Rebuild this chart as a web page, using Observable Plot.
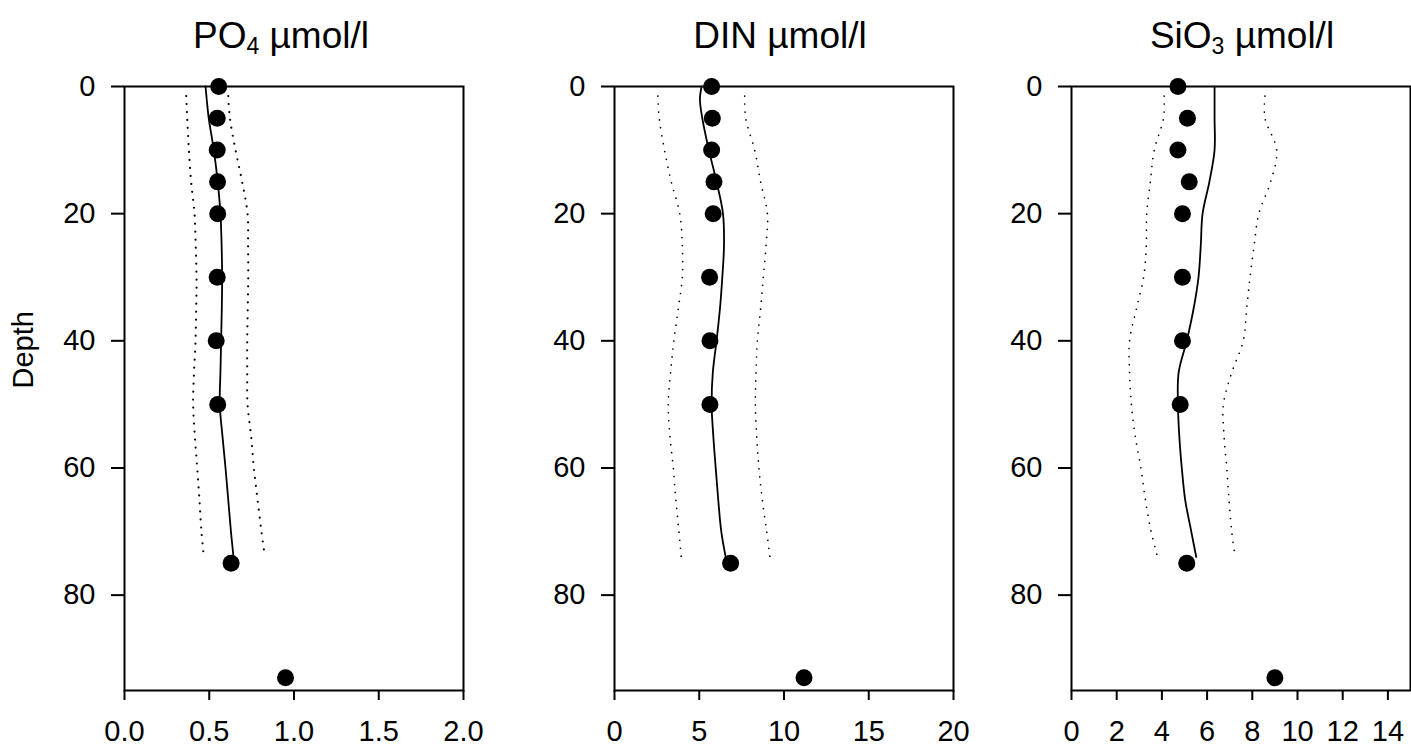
<!DOCTYPE html>
<html>
<head>
<meta charset="utf-8">
<script src="https://cdn.jsdelivr.net/npm/d3@7"></script>
<script src="https://cdn.jsdelivr.net/npm/@observablehq/plot@0.6"></script>
<style>
  html, body { margin: 0; padding: 0; background: white; overflow: hidden; }
  #wrap { position: relative; width: 1411px; height: 748px; font-family: "Liberation Sans", Arial, sans-serif; color: black; }
  .ttl { position: absolute; top: 17px; transform: translateX(-50%); font-size: 37px; line-height: 37px; white-space: nowrap; }
  .ttl .sub { font-size: 23px; vertical-align: -6px; }
  .pnl { position: absolute; top: 0; }
</style>
</head>
<body>
<div id="wrap"></div>
<script>
// Sample depths (m)
const depths = [0, 5, 10, 15, 20, 30, 40, 50, 75, 93];
// Measured concentrations
const po4  = [0.556, 0.547, 0.547, 0.549, 0.55, 0.547, 0.541, 0.55, 0.629, 0.95];
const din  = [5.73, 5.77, 5.73, 5.87, 5.82, 5.61, 5.63, 5.63, 6.85, 11.18];
const sio3 = [4.71, 5.13, 4.71, 5.21, 4.91, 4.91, 4.91, 4.81, 5.1, 9.0];

// Smoothed profile (solid)
const fitDepths = [0, 2, 5, 10, 15, 20, 25, 30, 35, 40, 45, 50, 55, 60, 65, 70, 74];
const po4Fit  = [0.478, 0.485, 0.497, 0.527, 0.55, 0.566, 0.573, 0.576, 0.574, 0.57, 0.566, 0.562, 0.578, 0.596, 0.612, 0.628, 0.643];
const dinFit  = [5.14, 5.04, 5.18, 5.57, 6.02, 6.4, 6.46, 6.36, 6.22, 6.02, 5.8, 5.73, 5.83, 5.97, 6.12, 6.3, 6.56];
const sio3Fit = [6.33, 6.33, 6.33, 6.33, 6.1, 5.8, 5.72, 5.62, 5.4, 5.1, 4.74, 4.71, 4.77, 4.88, 5.03, 5.3, 5.52];

// Confidence bounds (dotted)
const boundDepths = [1.5, 5, 10, 15, 20, 25, 30, 35, 40, 45, 50, 55, 60, 65, 70, 74];
const po4Lower  = [0.364, 0.37, 0.38, 0.393, 0.413, 0.42, 0.425, 0.423, 0.419, 0.41, 0.405, 0.415, 0.429, 0.442, 0.454, 0.468];
const po4Upper  = [0.612, 0.622, 0.655, 0.694, 0.726, 0.729, 0.73, 0.727, 0.724, 0.724, 0.726, 0.747, 0.763, 0.785, 0.808, 0.828];
const dinLower  = [2.56, 2.64, 2.95, 3.35, 3.85, 4.0, 4.0, 3.76, 3.5, 3.31, 3.17, 3.27, 3.47, 3.62, 3.8, 3.94];
const dinUpper  = [7.68, 7.74, 8.27, 8.62, 9.02, 8.94, 8.78, 8.62, 8.43, 8.35, 8.31, 8.39, 8.52, 8.72, 8.98, 9.17];
const sio3Lower = [4.1, 4.07, 3.66, 3.49, 3.33, 3.31, 3.19, 2.87, 2.57, 2.57, 2.65, 2.82, 3.07, 3.27, 3.52, 3.81];
const sio3Upper = [8.56, 8.56, 9.08, 8.81, 8.29, 8.08, 7.9, 7.75, 7.6, 7.09, 6.72, 6.75, 6.87, 6.97, 7.09, 7.24];

// Axis ticks
const depthTicks = [0, 20, 40, 60, 80];
const po4Ticks = [0, 0.5, 1.0, 1.5, 2.0];
const dinTicks = [0, 5, 10, 15, 20];
const sio3Ticks = [0, 2, 4, 6, 8, 10, 12, 14];

const panels = [
  {title: 'PO<span class="sub">4</span> µmol/l', tx: 281, left: 0, width: 490, mL: 124, mR: 27,
   domain: [0, 2], ticks: po4Ticks, fmt: d3.format(".1f"),
   obs: po4, fit: po4Fit, lo: po4Lower, hi: po4Upper, dotW: 2.2, depthLabel: true},
  {title: 'DIN µmol/l', tx: 780, left: 490, width: 490, mL: 124, mR: 27,
   domain: [0, 20], ticks: dinTicks, fmt: d3.format("d"),
   obs: din, fit: dinFit, lo: dinLower, hi: dinUpper, dotW: 1.7, depthLabel: false},
  {title: 'SiO<span class="sub">3</span> µmol/l', tx: 1242, left: 985, width: 426, mL: 86, mR: 1,
   domain: [0, 15], ticks: sio3Ticks, fmt: d3.format("d"),
   obs: sio3, fit: sio3Fit, lo: sio3Lower, hi: sio3Upper, dotW: 1.7, depthLabel: false}
];

const wrap = document.getElementById("wrap");
const FONT = '"Liberation Sans", Arial, sans-serif';

for (const p of panels) {
  const pts = depths.map((d, i) => ({depth: d, v: p.obs[i]}));
  const fit = fitDepths.map((d, i) => ({depth: d, v: p.fit[i]}));
  const lo = boundDepths.map((d, i) => ({depth: d, v: p.lo[i]}));
  const hi = boundDepths.map((d, i) => ({depth: d, v: p.hi[i]}));

  const marks = [
    Plot.line(lo, {x: "v", y: "depth", curve: "catmull-rom", stroke: "black", strokeWidth: p.dotW, strokeDasharray: "0,8", strokeLinecap: "round"}),
    Plot.line(hi, {x: "v", y: "depth", curve: "catmull-rom", stroke: "black", strokeWidth: p.dotW, strokeDasharray: "0,8", strokeLinecap: "round"}),
    Plot.line(fit, {x: "v", y: "depth", curve: "catmull-rom", stroke: "black", strokeWidth: 1.8}),
    Plot.dot(pts, {x: "v", y: "depth", r: 8.5, fill: "black", stroke: null}),
    Plot.frame({stroke: "black", strokeWidth: 2}),
    Plot.axisX(p.ticks, {tickSize: 10, tickPadding: 20, tickFormat: p.fmt, label: null, strokeWidth: 2, fontSize: 29, fontFamily: FONT}),
    Plot.axisY(depthTicks, {tickSize: 13, tickPadding: 16, tickFormat: d3.format("d"), label: null, strokeWidth: 2, fontSize: 29, fontFamily: FONT})
  ];
  if (p.depthLabel) {
    marks.push(Plot.text(["Depth"], {text: d => d, frameAnchor: "left", rotate: -90, dx: -101, fontSize: 29, fontFamily: FONT}));
  }

  const chart = Plot.plot({
    width: p.width,
    height: 748,
    marginTop: 86,
    marginBottom: 58,
    marginLeft: p.mL,
    marginRight: p.mR,
    x: {domain: p.domain, label: null},
    y: {domain: [0, 95], reverse: true, label: null},
    style: {fontFamily: FONT, fontSize: "29px", background: "transparent", color: "black", overflow: "visible"},
    marks
  });
  chart.classList.add("pnl");
  chart.style.left = p.left + "px";
  wrap.appendChild(chart);

  const t = document.createElement("div");
  t.className = "ttl";
  t.style.left = p.tx + "px";
  t.innerHTML = p.title;
  wrap.appendChild(t);
}
</script>
</body>
</html>
